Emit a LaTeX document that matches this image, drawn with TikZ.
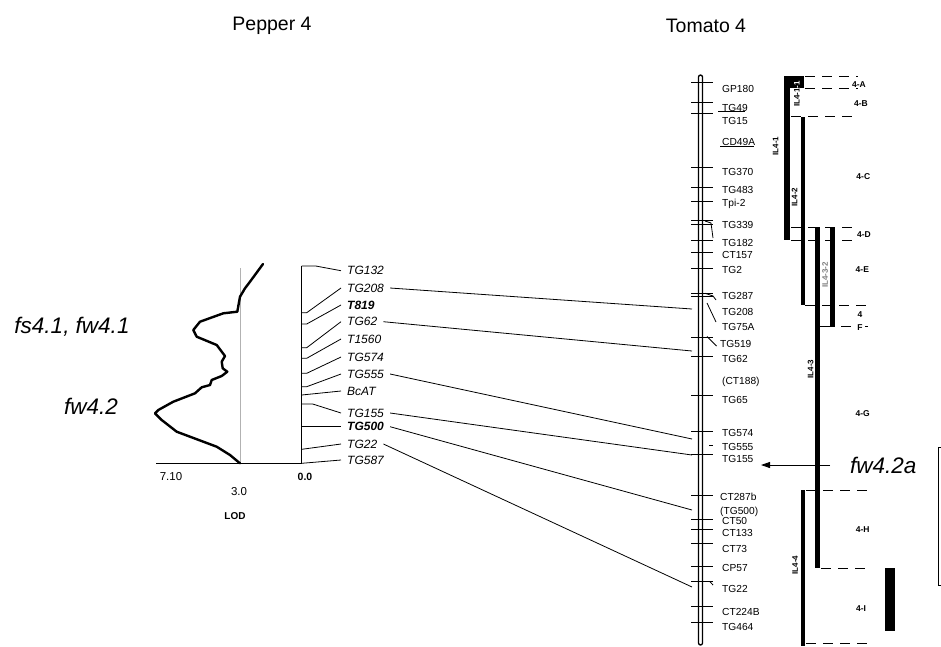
\documentclass[tikz,border=0pt]{standalone}
\usepackage{fontspec}
\setmainfont{Liberation Sans}
\usepackage{tikz}
\usetikzlibrary{arrows.meta}

\begin{document}
\begin{tikzpicture}
  [x=1pt, y=-1pt,
   enode/.style={minimum size=0, inner sep=0},
   tmark/.style={anchor=west, inner sep=0, font=\fontsize{10.2}{11}\selectfont},
   pmark/.style={anchor=west, inner xsep=6pt, inner ysep=1pt,
                 font=\fontsize{12}{13}\selectfont\itshape},
   reg/.style={inner sep=0, font=\fontsize{8.5}{9}\selectfont\bfseries},
   ilab/.style={inner sep=0, rotate=90, font=\fontsize{8}{9}\selectfont\bfseries},
   qtl/.style={inner sep=0, font=\fontsize{22.5}{25}\selectfont\itshape},
   cut/.style={line width=0.9pt, dash pattern=on 10pt off 7pt},
   link/.style={line width=0.8pt}]

  \useasboundingbox (0,0) rectangle (941,646);

  % titles
  \node[enode, font=\fontsize{19.5}{22}\selectfont] (pep) at (272,26) {Pepper 4};
  \node[enode, font=\fontsize{19.5}{22}\selectfont] (tom) at (706,26) {Tomato 4};

  % QTL names
  \node[qtl] (fs41) at (72,327) {fs4.1, fw4.1};
  \node[qtl] (fw42) at (91,406) {fw4.2};

  % LOD plot
  \draw[line width=0.8pt] (156,463.5) -- (301.7,463.5);
  \draw[line width=1pt, draw=gray!60] (240,268) -- (240,463.5);
  \draw[line width=2.4pt, line join=round, line cap=round]
    (263,264) -- (250,281.7) -- (245,288.3) -- (240,296.7) -- (237.3,311.7)
    -- (223.3,313.3) -- (200,321.7) -- (193.3,330) -- (196.7,336.7)
    -- (216.7,345) -- (225,356) -- (221.7,361.7) -- (222.7,368.3)
    -- (227.3,371.7) -- (221.7,376) -- (211.7,380) -- (210,385)
    -- (201.7,387.3) -- (195,393.3) -- (173.3,401.7) -- (158.3,410)
    -- (155,413.3) -- (161.7,420) -- (176.7,431.7) -- (216.7,446.7)
    -- (230,455) -- (240,463.3);
  \node[enode, font=\fontsize{11.5}{12}\selectfont] (v710) at (171,477) {7.10};
  \node[enode, font=\fontsize{11.5}{12}\selectfont] (v30) at (239,492) {3.0};
  \node[enode, font=\fontsize{10}{11}\selectfont\bfseries] (lod) at (235,516) {LOD};
  \node[enode, font=\fontsize{10.5}{11}\selectfont\bfseries] (v00) at (305,477) {0.0};

  % pepper chromosome
  \draw[line width=0.9pt] (301.7,266) -- (301.7,463.5);
  \foreach \n/\y in {132/266, 208/312.7, 819/324, 62/347.7, 1560/358.3, 574/373.3,
                     555/386.7, bcat/395, 155/404, 500/426.7, 22/449.3, 587/463.3}
    \coordinate (c\n) at (301.7,\y);

  \node[pmark] (p132) at (341,270.7) {TG132};
  \node[pmark] (p208) at (341,288) {TG208};
  \node[pmark] (p819) at (341,305) {\bfseries T819};
  \node[pmark] (p62) at (341,321.7) {TG62};
  \node[pmark] (p1560) at (341,339) {T1560};
  \node[pmark] (p574) at (341,357) {TG574};
  \node[pmark] (p555) at (341,374) {TG555};
  \node[pmark] (pbcat) at (341,391) {BcAT};
  \node[pmark] (p155) at (341,413) {TG155};
  \node[pmark] (p500) at (341,426.7) {\bfseries TG500};
  \node[pmark] (p22) at (341,444) {TG22};
  \node[pmark] (p587) at (341,460) {TG587};

  \draw[link] (c132) -- ++(14,0) -- (p132.west);
  \foreach \n in {208, 819, 62, 1560, 574, 555}
    \draw[link] (c\n) -- ++(5,0) -- (p\n.west);
  \draw[link] (cbcat) -- (pbcat.west);
  \draw[link] (c155) -- ++(11,0) -- (p155.west);
  \draw[link] (c500) -- (p500.west);
  \draw[link] (c22) -- (p22.west);
  \draw[link] (c587) -- (p587.west);

  % tomato chromosome
  \draw[line width=1.3pt, rounded corners=2pt] (698.5,75) rectangle (702.5,645);
  \foreach \y in {82.7, 102.7, 113.3, 167.3, 187.7, 201.7, 220, 224, 240, 252.7,
                  268.3, 293.3, 296.7, 337.7, 356, 395, 431.7, 454, 495, 519.3,
                  529.3, 543.3, 566, 581.7, 606, 622.7}
    \draw[link] (691,\y) -- (713,\y);
  \draw[link] (709,445) -- (713,445);
  \draw[link] (705,221) -- (711,223) -- (713,238);
  \draw[link] (705,293.3) -- (713,296) -- (716,300);
  \draw[link] (707,303) -- (716,322);
  \draw[link] (707,336.5) -- (716.5,346);
  \draw[link] (710,581.7) -- (713,585);
  \draw[link] (718,111.7) -- (745,111.7);
  \draw[link] (720,146) -- (754,146);

  \node[tmark] (gp180) at (722,89.3) {GP180};
  \node[tmark] (t49) at (722,108) {TG49};
  \node[tmark] (t15) at (722,120.7) {TG15};
  \node[tmark] (cd49a) at (722,141.7) {CD49A};
  \node[tmark] (t370) at (722,171.7) {TG370};
  \node[tmark] (t483) at (722,190) {TG483};
  \node[tmark] (tpi2) at (722,204) {Tpi-2};
  \node[tmark] (t339) at (722,225) {TG339};
  \node[tmark] (t182) at (722,242.7) {TG182};
  \node[tmark] (ct157) at (722,255) {CT157};
  \node[tmark] (t2) at (722,270) {TG2};
  \node[tmark] (t287) at (722,296) {TG287};
  \node[tmark] (t208) at (722,311.7) {TG208};
  \node[tmark] (t75a) at (722,327.3) {TG75A};
  \node[tmark] (t519) at (720,344) {TG519};
  \node[tmark] (t62) at (722,359.3) {TG62};
  \node[tmark] (ct188) at (722,381.7) {(CT188)};
  \node[tmark] (t65) at (722,400) {TG65};
  \node[tmark] (t574) at (722,432.7) {TG574};
  \node[tmark] (t555) at (722,446.7) {TG555};
  \node[tmark] (t155) at (722,459.3) {TG155};
  \node[tmark] (ct287b) at (720,497.3) {CT287b};
  \node[tmark] (t500) at (720,512.3) {(TG500)};
  \node[tmark] (ct50) at (722,521) {CT50};
  \node[tmark] (ct133) at (722,533.3) {CT133};
  \node[tmark] (ct73) at (722,549.3) {CT73};
  \node[tmark] (cp57) at (722,568.3) {CP57};
  \node[tmark] (t22) at (722,589.3) {TG22};
  \node[tmark] (ct224b) at (722,611.7) {CT224B};
  \node[tmark] (t464) at (722,626.7) {TG464};

  % pepper to tomato
  \coordinate (x208) at (692,309);
  \coordinate (x62) at (692,351);
  \coordinate (x555) at (692,439);
  \coordinate (x155) at (692,455);
  \coordinate (x500) at (692,510);
  \coordinate (x22) at (692,587);
  \foreach \n in {208, 62, 555, 155, 500, 22}
    \draw[link] (p\n.east) -- (x\n);

  % introgression lines
  \fill (784,76) rectangle (790,240);
  \fill (790,76) rectangle (804,88.3);
  \fill (800.5,116.7) rectangle (804.5,305);
  \fill (815,227) rectangle (819.5,568.3);
  \fill (830,227) rectangle (834.5,326.5);
  \fill (800.5,490) rectangle (804.5,646);
  \fill (885,568) rectangle (895,631);
  \draw[link] (804.5,305) -- (815,305);
  \draw[link] (819.5,326.3) -- (834.5,326.3);

  \node[ilab] (il41) at (775.5,146) {IL4-1};
  \node[ilab] (il411) at (796.8,94) {IL4-1-1};
  \begin{scope}
    \clip (790,76) rectangle (804,88.3);
    \node[ilab, white] at (796.8,94) {IL4-1-1};
  \end{scope}
  \node[ilab] (il42) at (794.5,197) {IL4-2};
  \node[ilab, gray] (il432) at (825,275) {IL4-3-2};
  \node[ilab] (il43) at (810.5,369) {IL4-3};
  \node[ilab] (il44) at (795,565) {IL4-4};

  % bins
  \draw[cut] (805,76) -- (858,76);
  \draw[cut] (805,88) -- (858,88);
  \draw[cut] (791,116.7) -- (858,116.7);
  \draw[cut] (791,227) -- (857,227);
  \draw[cut] (791,240) -- (857,240);
  \draw[cut] (805,305) -- (872,305);
  \draw[cut] (841,326.3) -- (874,326.3);
  \draw[cut] (806,490) -- (867,490);
  \draw[cut] (821,568) -- (867,568);
  \draw[cut] (806,643) -- (867,643);

  \node[reg] (ba) at (859,85) {4-A};
  \node[reg] (bb) at (861,104) {4-B};
  \node[reg] (bc) at (863.3,176.7) {4-C};
  \node[reg] (bd) at (864,235) {4-D};
  \node[reg] (be) at (862.3,270) {4-E};
  \node[reg] (bf) at (860,315) {4};
  \node[reg, fill=white, inner xsep=2pt] (bf2) at (860,327.5) {F};
  \node[reg] (bg) at (862.7,413.3) {4-G};
  \node[reg] (bh) at (862.7,530) {4-H};
  \node[reg] (bi) at (861,609) {4-I};

  % fw4.2a
  \node[qtl, anchor=west] (fwa) at (850,465) {fw4.2a};
  \coordinate (tarr) at (761,465);
  \draw[line width=0.9pt, -{Triangle[length=9pt, width=6pt]}, shorten <=20pt]
    (fwa.west) -- (tarr);
  \draw[link] (942,447.3) -- (938.3,447.3) -- (938.3,585) -- (942,585);

\end{tikzpicture}
\end{document}
